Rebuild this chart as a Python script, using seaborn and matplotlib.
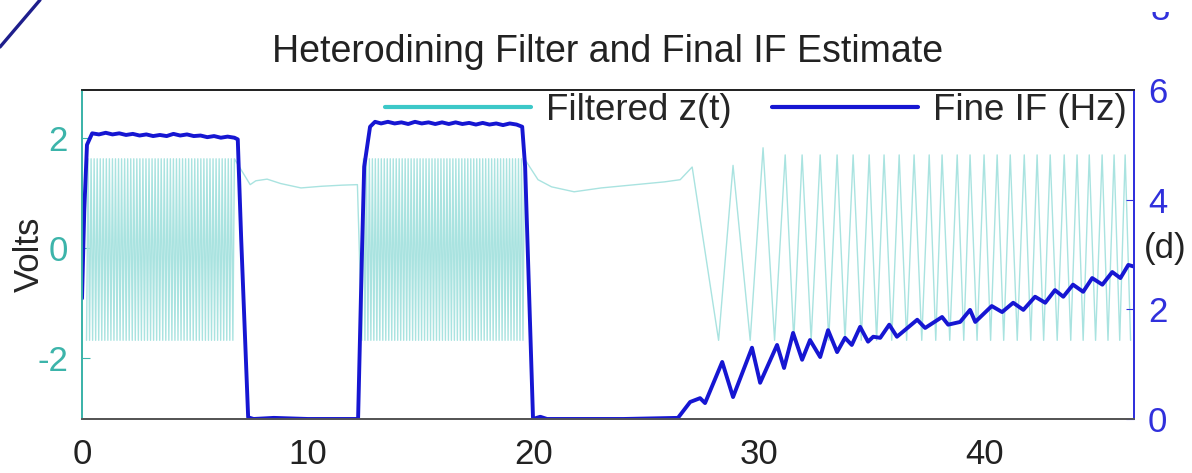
import numpy as np
import pandas as pd
import seaborn as sns
import matplotlib.pyplot as plt
from matplotlib.lines import Line2D
from matplotlib.patches import Rectangle

# ======== data ========
# dense carrier bursts: only start/end, envelope and a rough cycle count can be read
burst_start = [0.2, 12.4]
burst_end = [6.75, 19.6]
burst_cycles = [48, 54]
burst_hi = 1.62
burst_lo = -1.68

# quiet stretches of z(t) between the bursts
flat1_t = [7.45, 7.7, 8.2, 8.8, 9.7, 10.6, 11.5, 12.2]
flat1_v = [1.15, 1.22, 1.25, 1.17, 1.09, 1.12, 1.14, 1.15]
flat2_t = [20.2, 20.8, 21.8, 23.0, 24.5, 25.8, 26.5]
flat2_v = [1.24, 1.11, 1.02, 1.09, 1.15, 1.20, 1.24]

# chirp part: peak / trough times
chirp_peak_t = [27.03, 28.84, 30.17, 31.15, 31.90, 32.70, 33.45, 34.16, 34.87, 35.53,
                36.20, 36.86, 37.53, 38.10, 38.77, 39.34, 39.96, 40.54, 41.12, 41.74,
                42.31, 42.89, 43.51, 44.08, 44.62, 45.19, 45.72, 46.21]
chirp_peak_v = [1.47, 1.50, 1.82] + [1.69] * 25
chirp_trough_t = [28.20, 29.60, 30.68, 31.53, 32.30, 33.08, 33.80, 34.52, 35.20, 35.87,
                  36.53, 37.20, 37.82, 38.44, 39.06, 39.65, 40.25, 40.83, 41.43, 42.03,
                  42.60, 43.20, 43.80, 44.35, 44.90, 45.45, 45.97, 46.45]
chirp_trough_v = [-1.68] * 28

# fine IF estimate (Hz)
if_t = [0.0, 0.1, 0.22, 0.45,
        0.75, 1.05, 1.35, 1.65, 1.95, 2.25, 2.55, 2.85, 3.15, 3.45, 3.75, 4.05, 4.35,
        4.65, 4.95, 5.25, 5.55, 5.85, 6.15, 6.45, 6.75,
        6.9, 7.05, 7.36, 7.6, 8.5, 10.0, 12.23,
        12.4, 12.5, 12.76, 12.98,
        13.25, 13.55, 13.85, 14.15, 14.45, 14.75, 15.05, 15.35, 15.65, 15.95, 16.25,
        16.55, 16.85, 17.15, 17.45, 17.75, 18.05, 18.35, 18.65, 18.95, 19.25,
        19.5, 19.63, 19.98, 20.3, 20.6, 24.0, 26.4,
        26.94, 27.38, 27.6, 28.36, 28.84, 29.68, 30.04, 30.79, 31.1, 31.5, 31.9,
        32.25, 32.7, 33.05, 33.45, 33.8, 34.1, 34.47, 34.82, 35.05, 35.36, 35.76,
        36.1, 37.0, 37.35, 38.1, 38.37, 38.9, 39.34, 39.57, 40.3, 40.76, 41.25,
        41.7, 42.22, 42.67, 43.1, 43.47, 43.9, 44.35, 44.75, 45.2, 45.64, 46.0,
        46.35, 46.6]
if_v = [2.2, 3.8, 5.0, 5.21,
        5.19, 5.22, 5.19, 5.21, 5.18, 5.20, 5.17, 5.19, 5.16, 5.18, 5.16, 5.20, 5.17,
        5.19, 5.16, 5.17, 5.14, 5.16, 5.13, 5.15, 5.13,
        5.10, 3.30, 0.03, 0.0, 0.02, 0.0, 0.0,
        3.0, 4.6, 5.33, 5.42,
        5.39, 5.42, 5.39, 5.41, 5.38, 5.42, 5.39, 5.41, 5.38, 5.41, 5.38,
        5.41, 5.38, 5.40, 5.37, 5.40, 5.37, 5.39, 5.36, 5.39, 5.37,
        5.33, 4.6, 0.0, 0.04, 0.0, 0.0, 0.02,
        0.31, 0.38, 0.29, 1.04, 0.40, 1.30, 0.66, 1.35, 0.93, 1.57, 1.08,
        1.44, 1.13, 1.62, 1.22, 1.48, 1.35, 1.68, 1.41, 1.50, 1.48, 1.72,
        1.50, 1.81, 1.66, 1.86, 1.72, 1.77, 1.99, 1.77, 2.06, 1.95, 2.12,
        1.99, 2.23, 2.12, 2.35, 2.23, 2.45, 2.32, 2.57, 2.45, 2.68, 2.57,
        2.81, 2.78]

x_ticks = [0, 10, 20, 30, 40]
volt_ticks = [-2, 0, 2]
hz_ticks = [0, 2, 4, 6]


# ======== assemble z(t) ========
def burst(t0, t1, n):
    # alternate trough / peak, ending on a peak
    k = 2 * n + 2
    tt = np.linspace(t0, t1, k)
    vv = np.where(np.arange(k) % 2 == 0, burst_lo, burst_hi)
    return list(tt), list(vv)


b1_t, b1_v = burst(burst_start[0], burst_end[0], burst_cycles[0])
b2_t, b2_v = burst(burst_start[1], burst_end[1], burst_cycles[1])
ch_t = [t for pair in zip(chirp_peak_t, chirp_trough_t) for t in pair]
ch_v = [v for pair in zip(chirp_peak_v, chirp_trough_v) for v in pair]

z = pd.DataFrame({'t': b1_t + flat1_t + b2_t + flat2_t + ch_t,
                  'v': b1_v + flat1_v + b2_v + flat2_v + ch_v})
fif = pd.DataFrame({'t': if_t, 'v': if_v})

# ======== style ========
sns.set_style("white")
plt.rcParams['font.family'] = ['Liberation Sans', 'DejaVu Sans']
plt.rcParams['axes.unicode_minus'] = False

teal_txt = '#3cb4aa'
cyan_sig = '#a9e3e0'
cyan_leg = '#3cc8c8'
blue = '#1616d2'
blue_ax = '#3030dc'

fig = plt.figure(figsize=(11.92, 4.73), dpi=100)
ax = fig.add_axes([0.0688, 0.1142, 0.8825, 0.6955])
ax2 = ax.twinx()

sns.lineplot(data=z, x='t', y='v', ax=ax, sort=False, estimator=None,
             color=cyan_sig, linewidth=1.0, legend=False)
sns.lineplot(data=fif, x='t', y='v', ax=ax2, sort=False, estimator=None,
             color=blue, linewidth=2.8, legend=False,
             solid_joinstyle='round', solid_capstyle='round')

ax.set_xlim(0, 46.6)
ax.set_ylim(-3.11, 2.87)
ax2.set_ylim(0, 6)
ax.set_xticks(x_ticks)
ax.set_yticks(volt_ticks)
ax2.set_yticks(hz_ticks)
ax.set_xlabel('')
ax2.set_ylabel('')
ax.set_ylabel('Volts', fontsize=25)
ax.yaxis.set_label_coords(-0.034, 0.5)

ax.tick_params(axis='x', direction='in', length=6, labelsize=25, pad=14, colors='#222222')
ax.tick_params(axis='y', direction='in', length=6, labelsize=25, pad=10,
               colors=teal_txt)
ax2.tick_params(axis='y', direction='in', length=6, labelsize=25, pad=10,
                colors=blue_ax)

for a in (ax, ax2):
    a.spines['top'].set_color('#222222')
    a.spines['bottom'].set_color('#555555')
    a.spines['left'].set_color(teal_txt)
    a.spines['right'].set_color(blue_ax)
    for s in a.spines.values():
        s.set_linewidth(1.3)

ax.set_title('Heterodining Filter and Final IF Estimate', fontsize=27, pad=20,
             color='#222222')

handles = [Line2D([], [], color=cyan_leg, linewidth=3),
           Line2D([], [], color=blue, linewidth=3)]
fig.legend(handles, ['Filtered z(t)', 'Fine IF (Hz)'], loc='center right',
           bbox_to_anchor=(1127 / 1192, 1 - 110 / 473), ncol=2, frameon=False,
           fontsize=26.5, handlelength=3.95, handletextpad=0.42, columnspacing=1.1,
           borderpad=0, borderaxespad=0)

fig.text(1165 / 1192, 1 - 248 / 473, '(d)', fontsize=25, ha='center', va='center',
         color='#222222')
# bottom of a tick label from the panel above, cut by the page crop
fig.text(1160 / 1192, 1 - 11 / 473, '8', fontsize=25, ha='center', va='center',
         color=blue_ax)
fig.add_artist(Rectangle((1130 / 1192, 1 - 12 / 473), 60 / 1192, 12 / 473,
                         transform=fig.transFigure, facecolor='white',
                         edgecolor='none', zorder=10))
fig.add_artist(Line2D([0, 40 / 1192], [1 - 47 / 473, 1], color='#1e1e8c',
                      linewidth=2.4, transform=fig.transFigure))

fig.savefig('out.png', dpi=100)
